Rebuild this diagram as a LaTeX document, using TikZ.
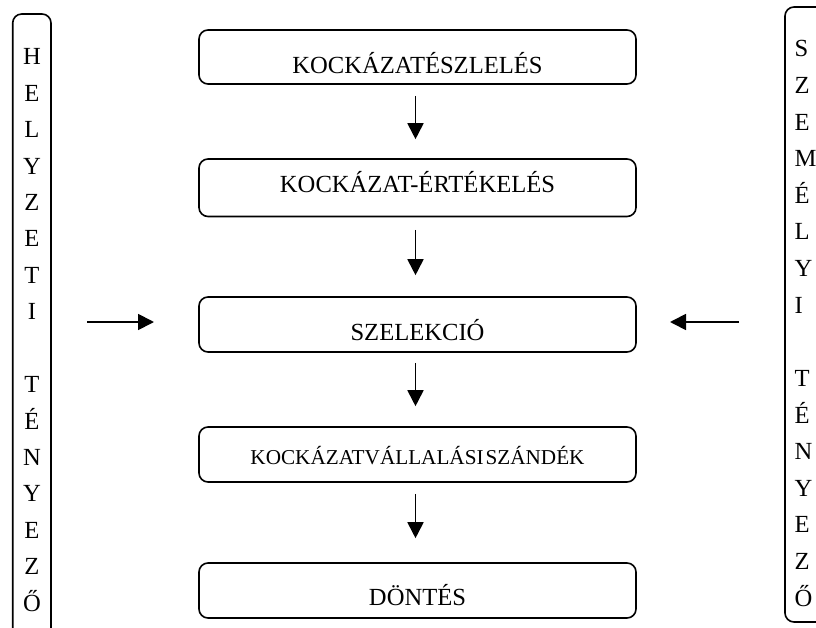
\documentclass[tikz,border=0pt]{standalone}
\usepackage{fontspec}
\setmainfont{Liberation Serif}
\usetikzlibrary{arrows.meta,calc}

\tikzset{
  stagebox/.style={draw=black, line width=1.6pt, rounded corners=9pt,
    minimum width=437pt, inner sep=0pt},
  stagetext/.style={anchor=base, inner sep=0pt, font=\fontsize{24.6}{29}\selectfont},
  smalltext/.style={anchor=base, inner sep=0pt, font=\fontsize{21.2}{25}\selectfont},
  colbox/.style={draw=black, line width=1.6pt, rounded corners=9pt},
  letter/.style={inner sep=0pt, font=\fontsize{24.6}{29}\selectfont},
  flow/.style={line width=1.8pt, -{Triangle[length=16pt, width=16pt]}}
}

\begin{document}
\begin{tikzpicture}[x=1pt, y=-1pt]
  \clip (0,0) rectangle (816,628);
  \fill[white] (0,0) rectangle (816,628);

  % side columns (running past the edge of the page)
  \draw[colbox] (12.7,14) rectangle (51,660);
  \draw[colbox] (785,7) rectangle (860,622);

  \foreach \ch/\k in {H/0,E/1,L/2,Y/3,Z/4,E/5,T/6,I/7,T/9,É/10,N/11,Y/12,E/13,Z/14,Ő/15}
    \node[letter, anchor=base] (left\k) at (32, 65+36.4*\k) {\ch};

  \foreach \ch/\k in {S/0,Z/1,E/2,M/3,É/4,L/5,Y/6,I/7,T/9,É/10,N/11,Y/12,E/13,Z/14,Ő/15}
    \node[letter, anchor=base west] (right\k) at (794.5, 57+36.6*\k) {\ch};

  % stage boxes
  \node[stagebox, minimum height=54pt]   (b1) at (417.5,57)    {};
  \node[stagebox, minimum height=57.5pt] (b2) at (417.5,187.75) {};
  \node[stagebox, minimum height=55pt]   (b3) at (417.5,324.5) {};
  \node[stagebox, minimum height=55pt]   (b4) at (417.5,454.5) {};
  \node[stagebox, minimum height=55pt]   (b5) at (417.5,590.5) {};

  \node[stagetext] (t1) at (417.5,74)  {KOCKÁZATÉSZLELÉS};
  \node[stagetext] (t2) at (417.5,193) {KOCKÁZAT-ÉRTÉKELÉS};
  \node[stagetext] (t3) at (417.5,340) {SZELEKCIÓ};
  \node[smalltext] (t4) at (417.5,464) {KOCKÁZATVÁLLALÁSI\kern2pt SZÁNDÉK};
  \node[stagetext] (t5) at (417.5,605) {DÖNTÉS};

  % flow between stages
  \draw[flow] ($(b1.south)+(-2,11)$)   -- ($(b2.north)+(-2,-19)$);
  \draw[flow] ($(b2.south)+(-2,12.5)$) -- ($(b3.north)+(-2,-21)$);
  \draw[flow] ($(b3.south)+(-2,10)$)   -- ($(b4.north)+(-2,-20)$);
  \draw[flow] ($(b4.south)+(-2,11)$)   -- ($(b5.north)+(-2,-24)$);

  % influences from the side columns
  \coordinate (lfrom) at (87,322);
  \coordinate (lto)   at (154,322);
  \coordinate (rfrom) at (739,322);
  \coordinate (rto)   at (670,322);
  \draw[flow] (lfrom) -- (lto);
  \draw[flow] (rfrom) -- (rto);
\end{tikzpicture}
\end{document}
